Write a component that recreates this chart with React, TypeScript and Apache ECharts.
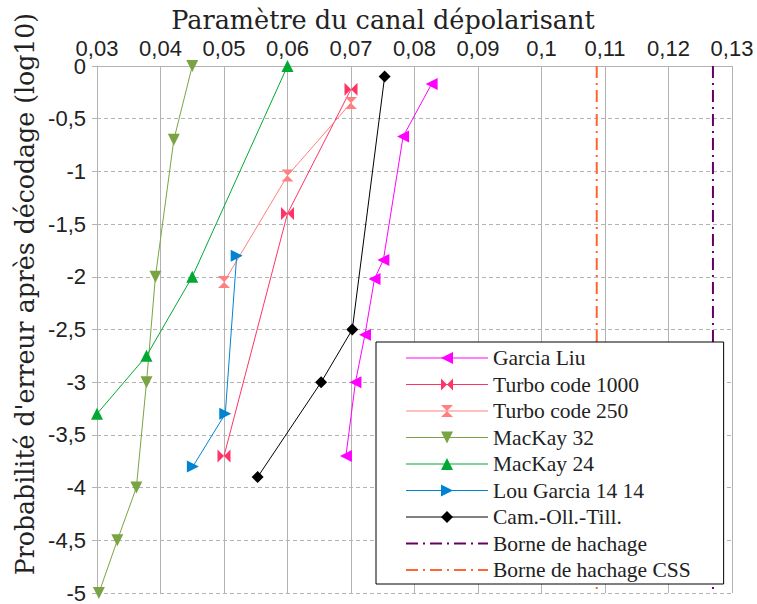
import React, { useEffect, useRef } from 'react';
import * as echarts from 'echarts';

const xTicksMin = 0.03;
const xTicksMax = 0.13;
const xInterval = 0.01;
const yMin = -5;
const yMax = 0;
const yInterval = 0.5;

const seriesNames = [
  'Garcia Liu',
  'Turbo code 1000',
  'Turbo code 250',
  'MacKay 32',
  'MacKay 24',
  'Lou Garcia 14 14',
  'Cam.-Oll.-Till.',
  'Borne de hachage',
  'Borne de hachage CSS',
];
const seriesColors = ['#ff00ff', '#ff3366', '#ff8080', '#7aa444', '#00a933', '#0084d1', '#000000', '#660066', '#ff6633'];

const garciaLiu = [[0.0827, -0.17], [0.0782, -0.67], [0.0751, -1.84], [0.0737, -2.02], [0.0722, -2.55], [0.0707, -3.0], [0.0692, -3.7]];
const turbo1000 = [[0.07, -0.22], [0.06, -1.4], [0.05, -3.7]];
const turbo250 = [[0.07, -0.35], [0.06, -1.04], [0.05, -2.05]];
const mackay32 = [[0.045, 0], [0.0421, -0.7], [0.0392, -2.0], [0.0378, -3.0], [0.0362, -4.0], [0.0332, -4.5], [0.0303, -5.0]];
const mackay24 = [[0.06, 0], [0.045, -2.0], [0.0378, -2.75], [0.03, -3.3]];
const louGarcia = [[0.052, -1.8], [0.0502, -3.3], [0.0451, -3.8]];
const camOllTill = [[0.0753, -0.1], [0.0702, -2.5], [0.0653, -3.0], [0.0553, -3.9]];
const borneHachage = 0.127;
const borneHachageCSS = 0.1087;

const xTitle = 'Paramètre du canal dépolarisant';
const yTitle = "Probabilité d'erreur après décodage (log10)";

const fmt = (v: number) => String(+v.toFixed(3)).replace('.', ',');

const BOWTIE = 'path://M0,0L5,5L0,10ZM10,0L5,5L10,10Z';
const HOURGLASS = 'path://M0,0L10,0L5,5ZM0,10L10,10L5,5Z';
const DASHDOT = [12, 5, 2, 5];

export default function App() {
  const ref = useRef<HTMLDivElement>(null);
  useEffect(() => {
    if (!ref.current) return;
    const chart = echarts.init(ref.current, null, { renderer: 'svg' });
    const lineSeries = (i: number, data: number[][], symbol: string, size: number, rotate = 0) => ({
      name: seriesNames[i],
      type: 'line',
      data,
      symbol,
      symbolSize: size,
      symbolRotate: rotate,
      lineStyle: { color: seriesColors[i], width: 1 },
      itemStyle: { color: seriesColors[i] },
      z: 3,
    });
    const vline = (i: number, x: number) => ({
      name: seriesNames[i],
      type: 'line',
      data: [[x, yMax], [x, yMin]],
      symbol: 'none',
      lineStyle: { color: seriesColors[i], width: 2, type: DASHDOT },
      itemStyle: { color: seriesColors[i] },
      z: 2,
    });
    const option: any = {
      animation: false,
      backgroundColor: '#fff',
      grid: { left: 97, top: 66, right: 25, bottom: 11, containLabel: false },
      xAxis: {
        type: 'value',
        position: 'top',
        min: xTicksMin,
        max: xTicksMax,
        interval: xInterval,
        axisLine: { show: true, onZero: false, lineStyle: { color: '#b3b3b3', width: 1 } },
        axisTick: { show: false },
        axisLabel: { formatter: fmt, fontFamily: 'Liberation Sans', fontSize: 22, lineHeight: 20, color: '#222', margin: 8 },
        splitLine: { show: true, lineStyle: { color: '#b3b3b3', width: 1, type: 'solid' } },
      },
      yAxis: {
        type: 'value',
        min: yMin,
        max: yMax,
        interval: yInterval,
        axisLine: { show: true, onZero: false, lineStyle: { color: '#b3b3b3', width: 1 } },
        axisTick: { show: true, length: 5, lineStyle: { color: '#b3b3b3' } },
        axisLabel: { formatter: fmt, fontFamily: 'Liberation Sans', fontSize: 22, lineHeight: 14, color: '#222', margin: 11 },
        splitLine: { show: true, lineStyle: { color: '#b3b3b3', width: 1, type: [4, 3] } },
      },
      legend: {
        orient: 'vertical',
        left: 376,
        top: 342,
        itemWidth: 82,
        itemHeight: 15,
        itemGap: 4.5,
        padding: [5, 33, 3, 29],
        backgroundColor: '#fff',
        borderColor: '#000',
        borderWidth: 1,
        borderRadius: 0,
        textStyle: { fontFamily: 'Liberation Serif', fontSize: 21.5, color: '#222' },
        data: seriesNames.map((n, i) =>
          i >= 7
            ? { name: n, itemStyle: { opacity: 0 }, lineStyle: { width: 2, type: DASHDOT, color: seriesColors[i] } }
            : { name: n, lineStyle: { width: 1, type: 'solid', color: seriesColors[i] }, itemStyle: { color: seriesColors[i] } }
        ),
      },
      graphic: [
        {
          type: 'text',
          x: 383,
          y: 20,
          style: { text: xTitle, font: '25.5px "DejaVu Serif"', fill: '#222', textAlign: 'center', textVerticalAlign: 'middle' },
        },
        {
          type: 'text',
          x: 25,
          y: 294,
          rotation: Math.PI / 2,
          style: { text: yTitle, font: '25.2px "DejaVu Serif"', fill: '#222', textAlign: 'center', textVerticalAlign: 'middle' },
        },
      ],
      series: [
        vline(7, borneHachage),
        vline(8, borneHachageCSS),
        lineSeries(0, garciaLiu, 'triangle', 12, 90),
        lineSeries(1, turbo1000, BOWTIE, 13),
        lineSeries(2, turbo250, HOURGLASS, 12),
        lineSeries(3, mackay32, 'triangle', 12, 180),
        lineSeries(4, mackay24, 'triangle', 12),
        lineSeries(5, louGarcia, 'triangle', 12, -90),
        lineSeries(6, camOllTill, 'diamond', 12),
      ],
    };
    chart.setOption(option);
    return () => chart.dispose();
  }, []);
  return <div ref={ref} style={{ width: 757, height: 604, position: 'absolute', left: 0, top: 0 }} />;
}
